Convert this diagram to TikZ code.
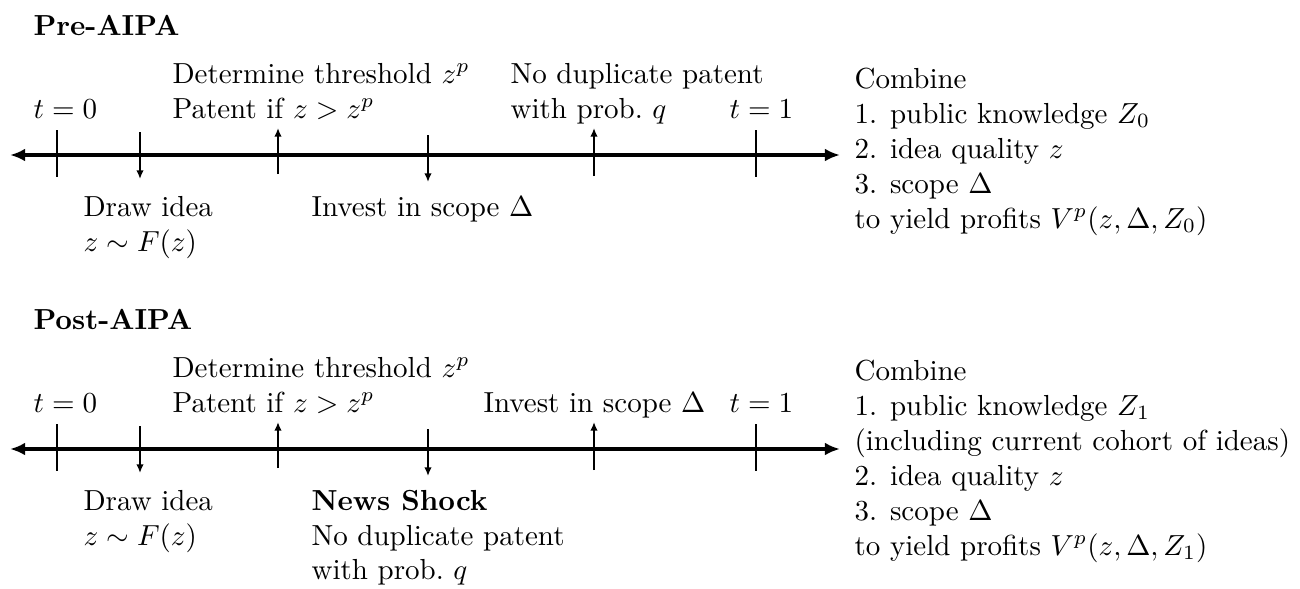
\documentclass[tikz,border=0pt]{standalone}
\usetikzlibrary{arrows.meta}
\tikzset{
  txt/.style={inner sep=0pt, anchor=base west},
  timeline/.style={line width=1.7pt, {Latex[length=5.2pt,width=4.4pt]}-{Latex[length=5.2pt,width=4.4pt]}},
  tickmark/.style={line width=1pt},
  event/.style={line width=0.8pt, -{Latex[length=3pt,width=2.6pt]}}
}
\begin{document}
\begin{tikzpicture}[x=0.3448pt,y=-0.3448pt]
\useasboundingbox (0,0) rectangle (1300,588);
% ---------------- Panel 1: Pre-AIPA ----------------
\node[txt] (t1) at (33,35) {\textbf{Pre-AIPA}};
\coordinate (a1L) at (10,155);
\coordinate (a1R) at (840,155);
\draw[timeline] (a1L) -- (a1R);
\coordinate (k1a) at (57,130); \coordinate (k1b) at (57,177);
\draw[tickmark] (k1a) -- (k1b);
\coordinate (k2a) at (756,130); \coordinate (k2b) at (756,177);
\draw[tickmark] (k2a) -- (k2b);
\coordinate (e1a) at (140,132); \coordinate (e1b) at (140,179);
\draw[event] (e1a) -- (e1b);
\coordinate (e2a) at (278,174); \coordinate (e2b) at (278,128);
\draw[event] (e2a) -- (e2b);
\coordinate (e3a) at (428,135); \coordinate (e3b) at (428,182);
\draw[event] (e3a) -- (e3b);
\coordinate (e4a) at (594,176); \coordinate (e4b) at (594,128);
\draw[event] (e4a) -- (e4b);

\node[txt] (p1d1) at (172,83) {Determine threshold $z^p$};
\node[txt] (p1d2) at (172,118) {Patent if $z > z^p$};
\node[txt] (p1t0) at (33,118) {$t=0$};
\node[txt] (p1n1) at (510,83) {No duplicate patent};
\node[txt] (p1n2) at (510,118) {with prob.\ $q$};
\node[txt] (p1t1) at (729,118) {$t=1$};
\node[txt] (p1w1) at (83,216) {Draw idea};
\node[txt] (p1w2) at (83,251) {$z\sim F(z)$};
\node[txt] (p1i) at (311,216) {Invest in scope $\Delta$};
\node[txt] (p1r1) at (854,88) {Combine};
\node[txt] (p1r2) at (854,123) {1. public knowledge $Z_0$};
\node[txt] (p1r3) at (854,158) {2. idea quality $z$};
\node[txt] (p1r4) at (854,193) {3. scope $\Delta$};
\node[txt] (p1r5) at (854,228) {to yield profits $V^p(z,\Delta,Z_0)$};

% ---------------- Panel 2: Post-AIPA ----------------
\node[txt] (t2) at (33,329) {\textbf{Post-AIPA}};
\coordinate (b1L) at (10,449);
\coordinate (b1R) at (840,449);
\draw[timeline] (b1L) -- (b1R);
\coordinate (m1a) at (57,424); \coordinate (m1b) at (57,471);
\draw[tickmark] (m1a) -- (m1b);
\coordinate (m2a) at (756,424); \coordinate (m2b) at (756,471);
\draw[tickmark] (m2a) -- (m2b);
\coordinate (f1a) at (140,426); \coordinate (f1b) at (140,473);
\draw[event] (f1a) -- (f1b);
\coordinate (f2a) at (278,468); \coordinate (f2b) at (278,422);
\draw[event] (f2a) -- (f2b);
\coordinate (f3a) at (428,429); \coordinate (f3b) at (428,476);
\draw[event] (f3a) -- (f3b);
\coordinate (f4a) at (594,470); \coordinate (f4b) at (594,422);
\draw[event] (f4a) -- (f4b);

\node[txt] (p2d1) at (172,377) {Determine threshold $z^p$};
\node[txt] (p2d2) at (172,412) {Patent if $z > z^p$};
\node[txt] (p2t0) at (33,412) {$t=0$};
\node[txt] (p2i) at (483,412) {Invest in scope $\Delta$};
\node[txt] (p2t1) at (729,412) {$t=1$};
\node[txt] (p2w1) at (83,510) {Draw idea};
\node[txt] (p2w2) at (83,545) {$z\sim F(z)$};
\node[txt] (p2n0) at (311,510) {\textbf{News Shock}};
\node[txt] (p2n1) at (311,545) {No duplicate patent};
\node[txt] (p2n2) at (311,579) {with prob.\ $q$};
\node[txt] (p2r1) at (854,380) {Combine};
\node[txt] (p2r2) at (854,415) {1. public knowledge $Z_1$};
\node[txt] (p2r3) at (854,450) {(including current cohort of ideas)};
\node[txt] (p2r4) at (854,485) {2. idea quality $z$};
\node[txt] (p2r5) at (854,520) {3. scope $\Delta$};
\node[txt] (p2r6) at (854,555) {to yield profits $V^p(z,\Delta,Z_1)$};
\end{tikzpicture}
\end{document}
